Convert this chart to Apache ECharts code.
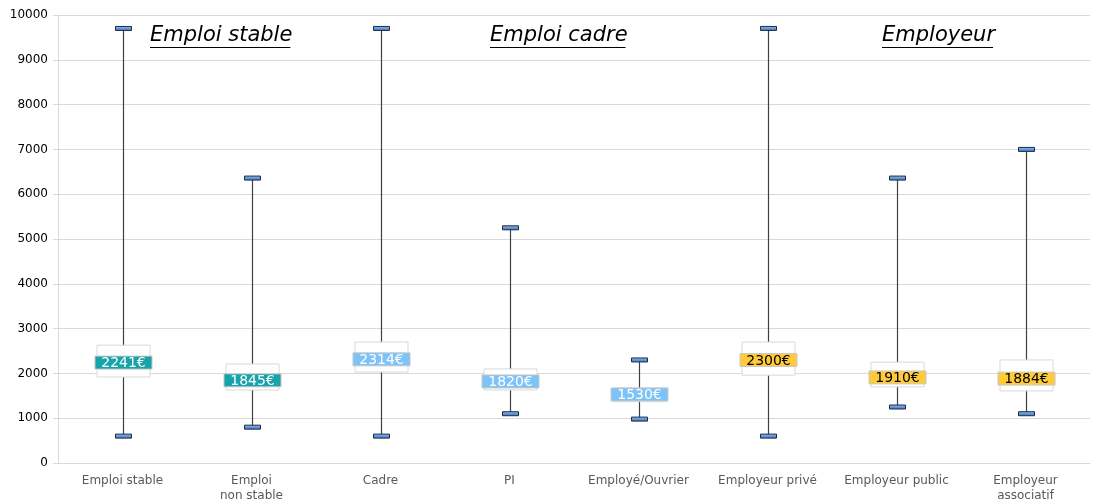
<!DOCTYPE html>
<html>
<head>
<meta charset="utf-8">
<script src="https://cdn.jsdelivr.net/npm/echarts@6/dist/echarts.min.js"></script>
<style>html,body{margin:0;padding:0;background:#fff}#c{width:1093px;height:500px}</style>
</head>
<body>
<div id="c"></div>
<script>
var categories = ['Emploi stable', 'Emploi\nnon stable', 'Cadre', 'PI', 'Employé/Ouvrier', 'Employeur privé', 'Employeur public', 'Employeur\nassociatif'];
var minValues = [600, 800, 600, 1100, 980, 600, 1250, 1100];
var q1Values = [1920, 1630, 2030, 1630, 1370, 1960, 1700, 1610];
var medianValues = [2241, 1845, 2314, 1820, 1530, 2300, 1910, 1884];
var q3Values = [2630, 2210, 2700, 2100, 1675, 2700, 2250, 2300];
var maxValues = [9700, 6360, 9700, 5250, 2300, 9700, 6360, 7000];
var groupOf = [0, 0, 1, 1, 1, 2, 2, 2];
var groupTitles = ['Emploi stable', 'Emploi cadre', 'Employeur'];
var yTicks = [0, 1000, 2000, 3000, 4000, 5000, 6000, 7000, 8000, 9000, 10000];

var labelFill = ['#17A3A9', '#7EC3F7', '#FFCB3D'];
var labelText = ['#ffffff', '#ffffff', '#000000'];

var chart = echarts.init(document.getElementById('c'));
var data = categories.map(function (c, i) {
  return [i, minValues[i], q1Values[i], medianValues[i], q3Values[i], maxValues[i], groupOf[i]];
});

function renderItem(params, api) {
  var i = api.value(0);
  var pMin = api.coord([i, api.value(1)]);
  var pQ1 = api.coord([i, api.value(2)]);
  var pMed = api.coord([i, api.value(3)]);
  var pQ3 = api.coord([i, api.value(4)]);
  var pMax = api.coord([i, api.value(5)]);
  var g = api.value(6);
  var x = Math.round(pMin[0]) + 0.5;
  var capW = 16, capH = 4, boxW = 53, labW = 57, labH = 13;
  var grad = new echarts.graphic.LinearGradient(0, 0, 0, 1, [
    {offset: 0, color: '#8EC0EE'}, {offset: 1, color: '#3D6FC6'}
  ]);
  var medText = api.value(3) + '€';
  return {
    type: 'group',
    children: [
      {type: 'line', shape: {x1: x, y1: pMax[1], x2: x, y2: pMin[1]}, style: {stroke: '#404040', lineWidth: 1.2}},
      {type: 'rect', shape: {x: x - boxW / 2, y: pQ3[1], width: boxW, height: pQ1[1] - pQ3[1]}, style: {fill: '#ffffff', stroke: '#d9d9d9', lineWidth: 1}},
      {type: 'rect', shape: {x: x - labW / 2, y: pMed[1] - labH / 2, width: labW, height: labH}, style: {fill: labelFill[g], stroke: '#c8c8c8', lineWidth: 1}},
      {type: 'text', x: x, y: pMed[1] + 1, style: {text: medText, fill: labelText[g], font: '14px "DejaVu Sans"', align: 'center', verticalAlign: 'middle'}},
      {type: 'rect', shape: {x: x - capW / 2, y: pMax[1] - capH / 2, width: capW, height: capH}, style: {fill: grad, stroke: '#1e2a44', lineWidth: 1}},
      {type: 'rect', shape: {x: x - capW / 2, y: pMin[1] - capH / 2, width: capW, height: capH}, style: {fill: grad, stroke: '#1e2a44', lineWidth: 1}}
    ]
  };
}

var titleLeft = [150, 490, 882];
var titleFont = 'italic 21px "DejaVu Sans"';
var meas = document.createElement('canvas').getContext('2d');
meas.font = titleFont;
var graphics = [];
groupTitles.forEach(function (t, k) {
  var w = meas.measureText(t).width;
  graphics.push({type: 'text', left: titleLeft[k], top: 25, style: {text: t, font: titleFont, fill: '#000'}});
  graphics.push({type: 'line', shape: {x1: titleLeft[k], y1: 47.5, x2: titleLeft[k] + w - 2, y2: 47.5}, style: {stroke: '#000', lineWidth: 1.2}});
});

chart.setOption({
  animation: false,
  grid: {left: 58, right: 3, top: 15, bottom: 37, outerBoundsMode: 'none', containLabel: false},
  xAxis: {
    type: 'category',
    data: categories,
    axisLine: {lineStyle: {color: '#d9d9d9'}},
    axisTick: {show: false},
    axisLabel: {color: '#595959', fontFamily: 'DejaVu Sans', fontSize: 12, margin: 10, lineHeight: 15, interval: 0}
  },
  yAxis: {
    type: 'value',
    min: yTicks[0],
    max: yTicks[yTicks.length - 1],
    interval: 1000,
    axisLine: {show: true, lineStyle: {color: '#d9d9d9'}},
    axisTick: {show: true, length: 5, lineStyle: {color: '#d9d9d9'}},
    axisLabel: {color: '#000', fontFamily: 'DejaVu Sans', fontSize: 12, margin: 10, formatter: function (v) { return String(v); }},
    splitLine: {lineStyle: {color: '#d9d9d9'}}
  },
  graphic: graphics,
  series: [{
    type: 'custom',
    renderItem: renderItem,
    encode: {x: 0, y: [1, 5]},
    data: data
  }]
});
</script>
</body>
</html>
